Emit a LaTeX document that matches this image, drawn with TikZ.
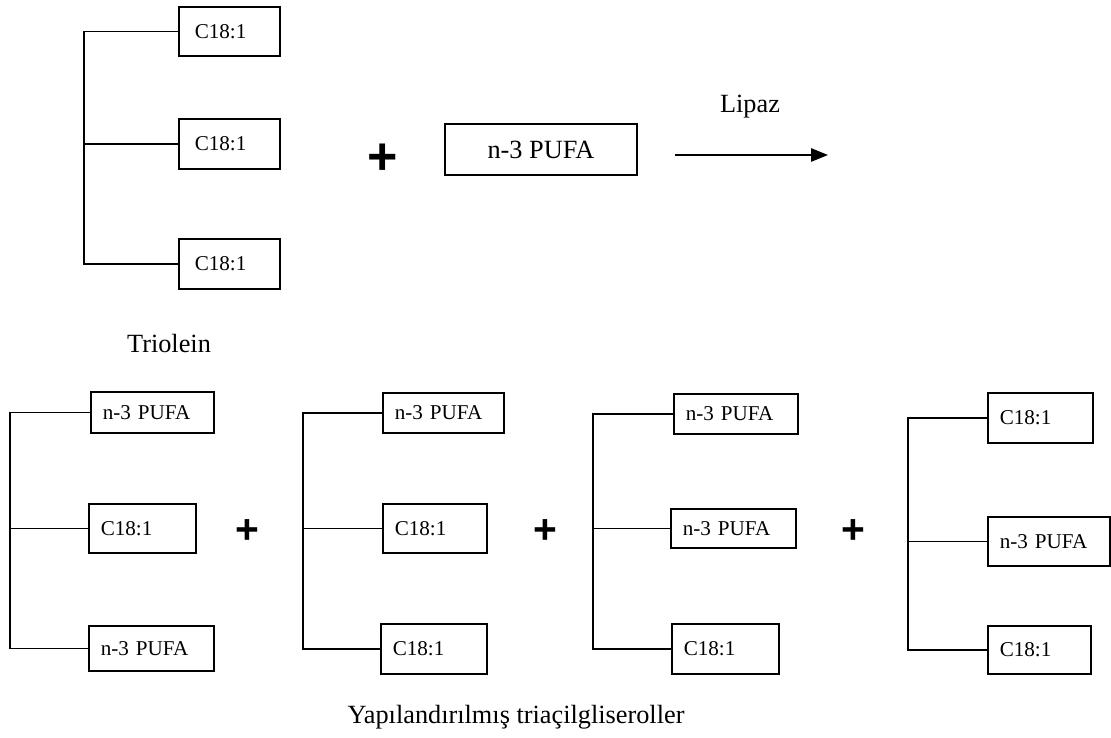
\documentclass[tikz,border=0pt]{standalone}
\usepackage{fontspec}
\setmainfont{Liberation Serif}
\newfontfamily\plusfont{Liberation Sans}
\usetikzlibrary{arrows.meta}

\begin{document}
\begin{tikzpicture}[x=0.025cm, y=-0.025cm,
    acid/.style 2 args={shape=rectangle, draw, line width=1.1pt, inner xsep=0.3cm, inner ysep=0pt,
      text width=#1, minimum height=#2, align=left, anchor=north west, font=\fontsize{15}{18}\selectfont},
    link/.style={line width=1.1pt},
    plussign/.style={inner sep=0pt, font=\plusfont\bfseries\fontsize{#1}{#1}\selectfont},
    txt/.style={inner sep=0pt, font=\fontsize{18.7}{22}\selectfont}]
        \useasboundingbox (0,0) rectangle (1111,737);
        % Triolein:
        \node[acid={1.725cm}{1.225cm}, inner xsep=0.4cm] (t1) at (178,6) {C18:1};
        \node[acid={1.725cm}{1.25cm}, inner xsep=0.4cm] (t2) at (178,118) {C18:1};
        \node[acid={1.725cm}{1.25cm}, inner xsep=0.4cm] (t3) at (178,238) {C18:1};
        \coordinate (sp0) at (84,0);
        \draw[link] (t1.west) -| (t3.west -| sp0) -- (t3.west);
        \draw[link] (t2.west) -- (t2.west -| sp0);
        \node[txt] (triolein) at (169,343) {Triolein};
        \node[plussign=37] (p0) at (383,159) {+};
        \node[shape=rectangle, draw, line width=1.1pt, inner sep=0pt, minimum width=4.8cm, minimum height=1.275cm,
          font=\fontsize{18.7}{22}\selectfont] (pufa) at (541,149.5) {n-3 PUFA};
        % Reaction arrow:
        \coordinate (arrS) at (675,155);
        \coordinate (arrE) at (828,155);
        \draw[link, -{Triangle[length=0.42cm, width=0.33cm]}] (arrS) -- (arrE);
        \node[txt] (lipaz) at (750,107) {Lipaz};
        % Structured triacylglycerols:
        \node[acid={2.475cm}{1.025cm}] (a1) at (90,391) {n-3 PUFA};
        \node[acid={2.075cm}{1.225cm}] (a2) at (88,503) {C18:1};
        \node[acid={2.525cm}{1.125cm}] (a3) at (88,625) {n-3 PUFA};
        \coordinate (sp1) at (10,0);
        \draw[link] (a1.west) -| (a3.west -| sp1) -- (a3.west);
        \draw[link] (a2.west) -- (a2.west -| sp1);
        \node[plussign=29] (p1) at (247,532) {+};
        \node[acid={2.425cm}{1cm}] (b1) at (382,392) {n-3 PUFA};
        \node[acid={2cm}{1.225cm}] (b2) at (382,503) {C18:1};
        \node[acid={2.05cm}{1.25cm}] (b3) at (380,623) {C18:1};
        \coordinate (sp2) at (303,0);
        \draw[link] (b1.west) -| (b3.west -| sp2) -- (b3.west);
        \draw[link] (b2.west) -- (b2.west -| sp2);
        \node[plussign=29] (p2) at (545,532) {+};
        \node[acid={2.5cm}{1cm}] (c1) at (673,393) {n-3 PUFA};
        \node[acid={2.525cm}{0.975cm}] (c2) at (670,508) {n-3 PUFA};
        \node[acid={2.075cm}{1.25cm}] (c3) at (671,623) {C18:1};
        \coordinate (sp3) at (593,0);
        \draw[link] (c1.west) -| (c3.west -| sp3) -- (c3.west);
        \draw[link] (c2.west) -- (c2.west -| sp3);
        \node[plussign=29] (p3) at (853,532) {+};
        \node[acid={2.025cm}{1.25cm}] (d1) at (987,392) {C18:1};
        \node[acid={2.45cm}{1.225cm}] (d2) at (987,516) {n-3 PUFA};
        \node[acid={1.975cm}{1.2cm}] (d3) at (987,625) {C18:1};
        \coordinate (sp4) at (908,0);
        \draw[link] (d1.west) -| (d3.west -| sp4) -- (d3.west);
        \draw[link] (d2.west) -- (d2.west -| sp4);
        \node[txt] (product) at (516,717) {Yapılandırılmış triaçilgliseroller};
\end{tikzpicture}
\end{document}
